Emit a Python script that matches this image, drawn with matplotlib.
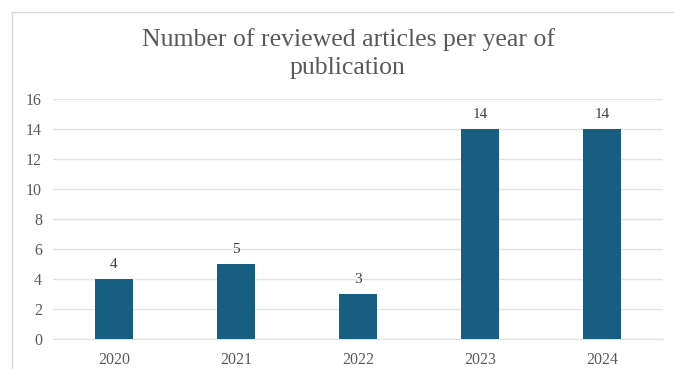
import matplotlib
matplotlib.use("Agg")
import matplotlib.pyplot as plt
from matplotlib.lines import Line2D

years = ["2020", "2021", "2022", "2023", "2024"]
counts = [4, 5, 3, 14, 14]
yticks = [0, 2, 4, 6, 8, 10, 12, 14, 16]

plt.rcParams['font.family'] = ['Liberation Serif', 'DejaVu Serif']

fig = plt.figure(figsize=(6.74, 3.69), dpi=100)
ax = fig.add_axes([53/674, 1-339/369, (663-53)/674, (339-99)/369])

x = range(len(years))
ax.bar(x, counts, width=0.31, color='#175e80', zorder=3)
for xi, c in zip(x, counts):
    ax.text(xi, c + 0.55, str(c), ha='center', va='bottom', fontsize=11, color='#404040')

ax.set_xlim(-0.5, len(years) - 0.5)
ax.set_ylim(0, 16)
ax.set_xticks(list(x))
ax.set_xticklabels(years)
ax.set_yticks(yticks)
ax.yaxis.grid(True, color='#e3e3e3', linewidth=1, zorder=0)
ax.tick_params(axis='both', length=0, labelsize=11.5, labelcolor='#595959')
ax.tick_params(axis='y', pad=8)
ax.tick_params(axis='x', pad=9.5)
for s in ax.spines.values():
    s.set_visible(False)
ax.spines['bottom'].set_visible(True)
ax.spines['bottom'].set_color('#e3e3e3')

fig.text(349/674, 1-46/369, "Number of reviewed articles per year of", ha='center', va='baseline',
         fontsize=18.5, color='#595959')
fig.text(348/674, 1-74/369, "publication", ha='center', va='baseline',
         fontsize=18.5, color='#595959')

# chart frame
fig.add_artist(Line2D([12/674, 12/674], [0, 1-12/369], color='#d9d9d9', linewidth=1, transform=fig.transFigure))
fig.add_artist(Line2D([12/674, 1], [1-12/369, 1-12/369], color='#d9d9d9', linewidth=1, transform=fig.transFigure))

fig.savefig("out.png", dpi=100)
